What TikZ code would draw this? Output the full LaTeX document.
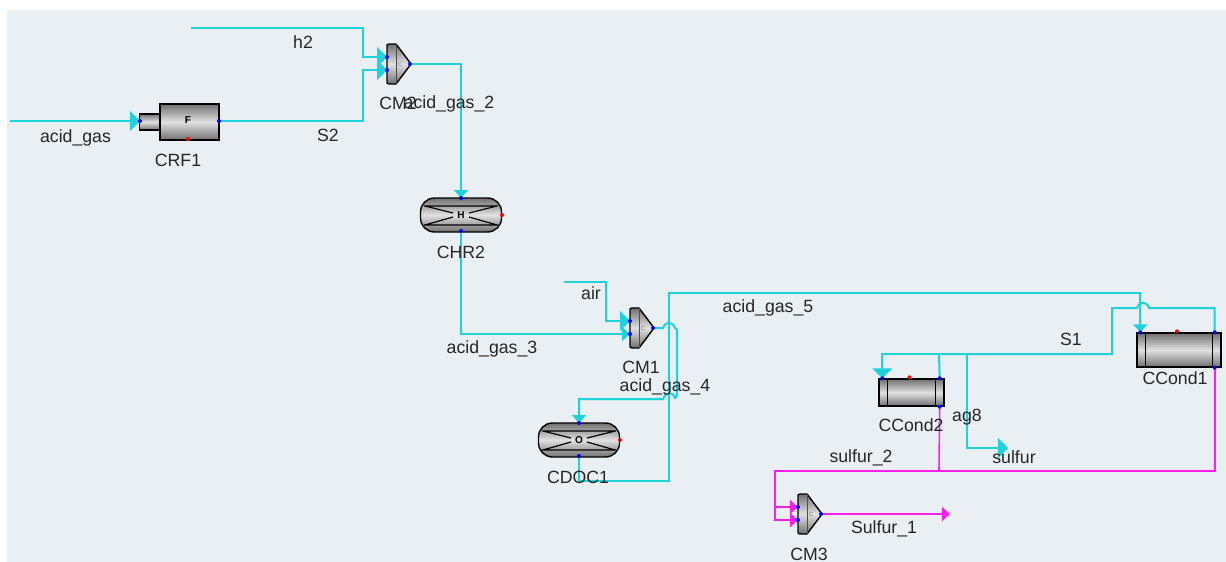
\documentclass[tikz,border=0pt]{standalone}
\usepackage{fontspec}
\setmainfont{Liberation Sans}
\usetikzlibrary{arrows.meta,positioning,calc}
\definecolor{panelbg}{RGB}{234,239,243}
\definecolor{gasline}{RGB}{30,210,220}
\definecolor{solidline}{RGB}{255,30,240}
\definecolor{metal}{RGB}{112,112,112}
\definecolor{metallight}{RGB}{225,225,225}
\tikzset{
  lbl/.style={font=\fontsize{8.85}{10}\selectfont,text=black!85,inner sep=0pt},
  metalbox/.style={draw=black,line width=.7pt,inner sep=0pt,top color=metal,bottom color=metal,middle color=metallight},
  letter/.style={font=\fontsize{5}{5}\selectfont\bfseries,inner sep=0pt},
  gas/.style={draw=gasline,line width=1pt},
  solid/.style={draw=solidline,line width=.8pt},
  bigtip/.style={-{Triangle[length=5pt,width=10pt]}},
  smalltip/.style={-{Triangle[length=4pt,width=7pt]}},
  inport/.style={circle,fill=blue,inner sep=0pt,minimum size=2pt},
  hotport/.style={circle,fill=red,inner sep=0pt,minimum size=2pt}
}
% mixer: name, upper left corner
\newcommand{\mixer}[2]{
  \begin{scope}[shift={(#2)}]
    \path[metalbox,line join=round] (0,1) -- (2,0) -- (9,0) -- (24,20) -- (9,40) -- (2,40) -- (0,39) -- cycle;
    \draw[black!70,line width=.4pt] (9,0) -- (9,40);
    \node[letter,font=\fontsize{3}{3}\selectfont,text=black!55] (#1) at (13,20) {C};
    \coordinate (#1in1) at (0,13);
    \coordinate (#1in2) at (0,26);
    \coordinate (#1out) at (23,20);
  \end{scope}
}
% vessel: name, centre, letter
\newcommand{\vessel}[3]{
  \begin{scope}[shift={(#2)}]
    \node[metalbox,rounded corners=7pt,minimum width=40.5pt,minimum height=17pt] (#1) at (0,0) {};
    \draw[black,line width=.6pt] (-37,-9) -- (37,-9) (-37,10) -- (37,10)
      (-36,-9) -- (-8,-2) (-36,10) -- (-8,2) (36,-9) -- (8,-2) (36,10) -- (8,2);
    \node[letter] at (0,0) {#3};
    \coordinate (#1top) at (0,-17);
    \coordinate (#1bot) at (0,16);
    \node[hotport] at (41,0) {};
  \end{scope}
}
% condenser: name, centre, width, height, offset of the right ports
\newcommand{\condenser}[5]{
  \begin{scope}[shift={(#2)}]
    \node[metalbox,minimum width=#3pt,minimum height=#4pt] (#1) at (0,0) {};
    \draw[black,line width=.6pt] ($(#1.north west)+(9,0)$) -- ($(#1.south west)+(9,0)$)
      ($(#1.north east)+(-9,0)$) -- ($(#1.south east)+(-9,0)$);
    \coordinate (#1a) at ($(#1.north west)+(4,0)$);
    \coordinate (#1b) at ($(#1.north east)+(-#5,0)$);
    \coordinate (#1c) at ($(#1.south east)+(-#5,0)$);
    \node[hotport] at ($(#1.north)+(-2,-1)$) {};
  \end{scope}
}
\begin{document}
\begin{tikzpicture}[x=.5pt,y=-.5pt]
\useasboundingbox (0,0) rectangle (1226,562);
\fill[white] (0,0) rectangle (1226,562);
\fill[panelbg] (7,10) rectangle (1226,562);

% equipment
\node[metalbox,minimum width=10.5pt,minimum height=8pt] (CRF1in) at (150,122) {};
\node[metalbox,minimum width=29.5pt,minimum height=18pt] (CRF1) at (189.5,122) {};
\node[letter] at (188,120) {F};
\node[hotport] at (188,139) {};
\mixer{CM2}{387,44}
\mixer{CM1}{630,308}
\mixer{CM3}{798,494}
\vessel{CHR2}{461,215}{H}
\vessel{CDOC1}{579,440}{O}
\condenser{CCond1}{1179,350}{42}{17}{7}
\condenser{CCond2}{911.5,392.5}{32.5}{13.5}{5}

% free ends and bends
\coordinate (acidgas) at (10,121);
\coordinate (h2) at (191,28);
\coordinate (air) at (564,282);
\coordinate (CRF1out) at (219,121);
\coordinate (CRF1feed) at (140,121);
\coordinate (sulfur) at (1008,448);
\coordinate (sulfur1) at (950,514);
\coordinate (joinS) at (939,354);
\coordinate (joinAg) at (967,354);
\coordinate (joinT) at (939,471);
\coordinate (joinM) at (775,507);

% gas streams
\draw[gas,bigtip] (acidgas) -- (CRF1feed);
\draw[gas,bigtip] (CRF1out) -- (363,121) -- (363,70) -- (CM2in2);
\draw[gas,bigtip] (h2) -- (363,28) -- (363,57) -- (CM2in1);
\draw[gas,smalltip] (CM2out) -| (CHR2top);
\draw[gas,smalltip] (CHR2bot) |- (CM1in2);
\draw[gas,bigtip] (air) -- (606,282) |- (CM1in1);
\draw[gas,smalltip] (CM1out) -- (663,328) to[out=70,in=110,looseness=1.6] (675,328) -- (677,330) -- (677,396)
  to[out=90,in=0] (675,398) to[out=110,in=70,looseness=1.6] (663,399) -| (CDOC1top);
\draw[gas,smalltip] (CDOC1bot) |- (669,481) -- (669,293) -| (CCond1a);
\draw[gas] (CCond1b) |- (1149,308) to[out=110,in=70,looseness=1.6] (1137,308) -- (1112,308) -- (1112,354) -- (joinS);
\draw[gas,bigtip] (joinS) -| (CCond2a);
\draw[gas] (CCond2b) -- (joinS);
\draw[gas,bigtip] (joinAg) |- (sulfur);

% sulfur streams
\draw[solid] (CCond1c) |- (joinT);
\draw[solid] (CCond2c) -- (joinT);
\draw[solid,smalltip] (joinT) -- (775,471) -- (joinM) -- (CM3in1);
\draw[solid,smalltip] (joinM) |- (CM3in2);
\draw[solid,smalltip] (CM3out) -- (sulfur1);

% ports
\foreach \p in {CRF1feed,CRF1out,CM2in1,CM2in2,CM2out,CM1in1,CM1in2,CM1out,CM3in1,CM3in2,CM3out,
  CHR2top,CHR2bot,CDOC1top,CDOC1bot,CCond1a,CCond1b,CCond1c,CCond2a,CCond2b,CCond2c}
  \node[inport] at (\p) {};

% labels
\node[lbl] (lacidgas) at (75.5,138) {acid\_gas};
\node[lbl] (lCRF1) at (178,160) {CRF1};
\node[lbl] (lS2) at (328,135) {S2};
\node[lbl] (lh2) at (303,42) {h2};
\node[lbl] (lCM2) at (398,103) {CM2};
\node[lbl] (lag2) at (449,104) {acid\_gas\_2};
\node[lbl] (lCHR2) at (461,252) {CHR2};
\node[lbl] (lair) at (591,293) {air};
\node[lbl] (lag3) at (492,349) {acid\_gas\_3};
\node[lbl] (lCM1) at (641,367) {CM1};
\node[lbl] (lag4) at (665,387) {acid\_gas\_4};
\node[lbl] (lCDOC1) at (578,477) {CDOC1};
\node[lbl] (lag5) at (768,308) {acid\_gas\_5};
\node[lbl] (lS1) at (1071,339) {S1};
\node[lbl] (lCCond1) at (1175,378) {CCond1};
\node[lbl] (lCCond2) at (911,425) {CCond2};
\node[lbl] (lag8) at (967,417) {ag8};
\node[lbl] (lsulfur) at (1014,457) {sulfur};
\node[lbl] (lsulfur2) at (861,458) {sulfur\_2};
\node[lbl] (lSulfur1) at (884,529) {Sulfur\_1};
\node[lbl] (lCM3) at (809,554) {CM3};
\end{tikzpicture}
\end{document}
